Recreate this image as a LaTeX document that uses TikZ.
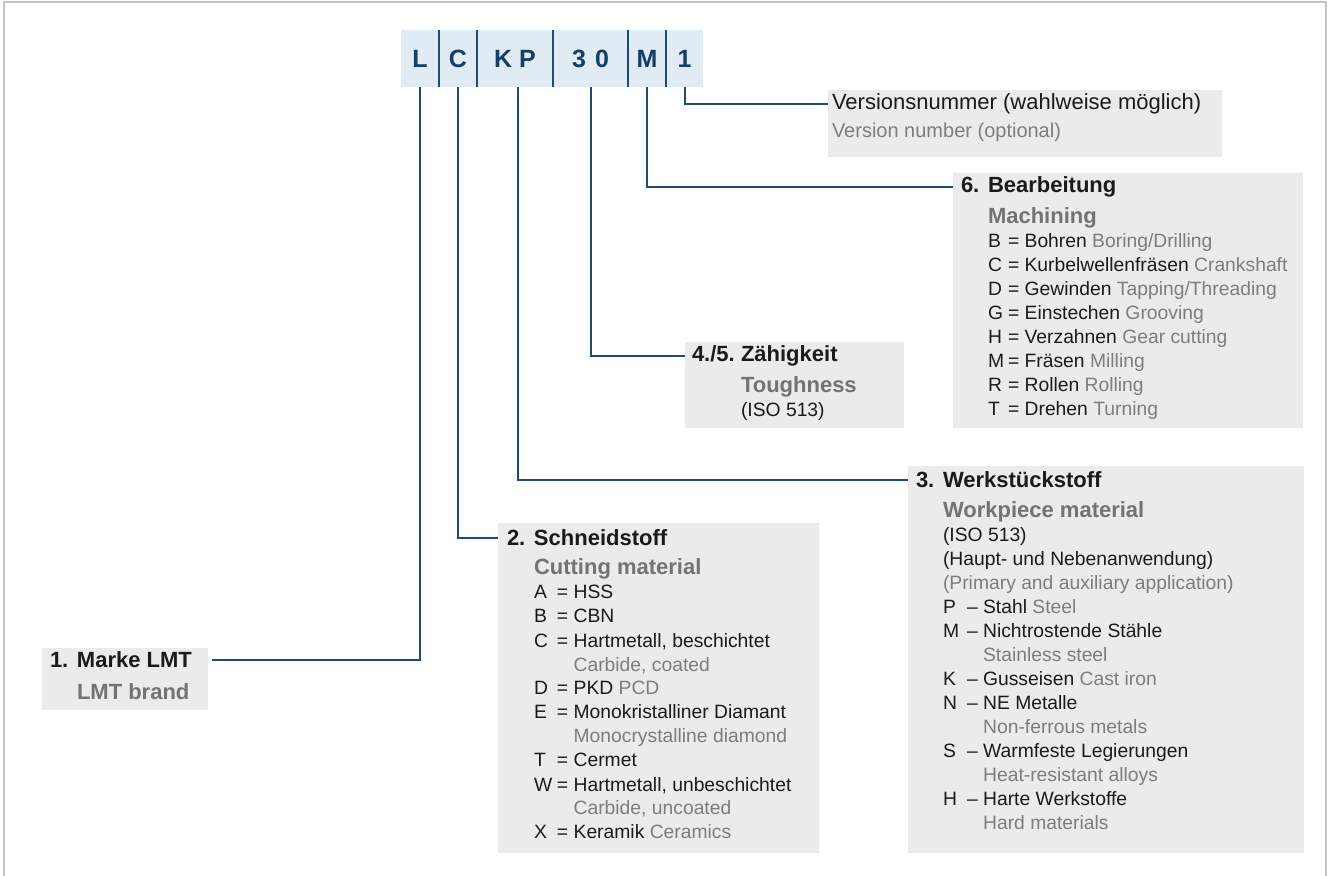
\documentclass[tikz,border=0pt]{standalone}
\usepackage{fontspec}
\setmainfont{Liberation Sans}
\definecolor{boxgray}{HTML}{EBEBEB}
\definecolor{barblue}{HTML}{E1EBF3}
\definecolor{navy}{HTML}{1F4A7C}
\definecolor{codeblue}{HTML}{123F6E}
\definecolor{txtgray}{HTML}{7D7D7D}
\definecolor{subgray}{HTML}{737373}
\definecolor{txtblack}{HTML}{1A1A1A}
\definecolor{framegray}{HTML}{C4C4C4}
\newcommand\gr[1]{\textcolor{txtgray}{#1}}
\newcommand\sub[1]{\textcolor{subgray}{\fontsize{11}{12}\selectfont\bfseries #1}}
% entries: letter column width, separator, text
\newcommand\ent[4]{\makebox[#1][l]{#2}#3\ #4}
\newcommand\cnt[3]{\makebox[#1][l]{}\phantom{#2}\ #3}
\newcommand\eb[2]{\ent{10pt}{#1}{=}{#2}}
\newcommand\es[2]{\ent{11.5pt}{#1}{=}{#2}}
\newcommand\cs[1]{\cnt{11.5pt}{=}{#1}}
\newcommand\ew[2]{\ent{12pt}{#1}{–}{#2}}
\newcommand\cw[1]{\cnt{12pt}{–}{#1}}
\newcommand\hnum[2]{\makebox[13.5pt][l]{#1}#2}
\begin{document}
\begin{tikzpicture}[x=0.5pt,y=-0.5pt,
  boxbg/.style={fill=boxgray, draw=none, anchor=north west, inner sep=0, outer sep=0},
  cell/.style={fill=barblue, draw=none, anchor=north west, inner sep=0, outer sep=0,
    minimum height=28.5pt, text=codeblue, font=\fontsize{12.5}{15}\selectfont\bfseries},
  txt/.style={anchor=base west, inner sep=0, outer sep=0, text=txtblack,
    font=\fontsize{9.65}{12}\selectfont},
  big/.style={txt, font=\fontsize{11}{12}\selectfont},
  head/.style={txt, font=\fontsize{11}{12}\selectfont\bfseries},
  conn/.style={draw=navy, line width=1pt},
  sepline/.style={draw=navy, line width=0.7pt}]
\useasboundingbox (0,0) rectangle (1328,876);
\draw[framegray, line width=1pt] (4,876) -- (4,2) -- (1326,2) -- (1326,876);

% header code bar
\node[cell, minimum width=19pt]   (cL)  at (401,30) {L};
\node[cell, minimum width=19pt]   (cC)  at (439,30) {C};
\node[cell, minimum width=38pt]   (cKP) at (477,30) {K P};
\node[cell, minimum width=37.5pt] (c30) at (553,30) {3\hspace{4.5pt}0};
\node[cell, minimum width=19pt]   (cM)  at (628,30) {M};
\node[cell, minimum width=18.5pt] (c1)  at (666,30) {1};
\foreach \c in {cL,cC,cKP,c30,cM}{\draw[sepline] (\c.north east) -- (\c.south east);}

% boxes
\node[boxbg, minimum width=197pt, minimum height=33.5pt]  (verBox)   at (828,90)  {};
\node[boxbg, minimum width=175pt, minimum height=127.5pt] (bearBox)  at (953,173) {};
\node[boxbg, minimum width=109.5pt, minimum height=43pt]  (toughBox) at (685,342) {};
\node[boxbg, minimum width=198pt, minimum height=193.5pt] (werkBox)  at (908,466) {};
\node[boxbg, minimum width=160.5pt, minimum height=165pt] (schnBox)  at (498,523) {};
\node[boxbg, minimum width=83pt, minimum height=31pt]     (markeBox) at (42,648)  {};

% Versionsnummer
\node[big] (verHead) at (832,110) {Versionsnummer (wahlweise möglich)};
\node[txt, font=\fontsize{10}{12}\selectfont] (verBody) at (832,138) {\gr{Version number (optional)}};

% 6. Bearbeitung
\node[head] (bearHead) at (961,193) {\hnum{6.}{Bearbeitung}};
\node[txt] (bearBody) at (988,224) {\begin{tabular}[t]{@{}l@{}}
\sub{Machining}\\
\eb{B}{Bohren \gr{Boring/Drilling}}\\
\eb{C}{Kurbelwellenfräsen \gr{Crankshaft}}\\
\eb{D}{Gewinden \gr{Tapping/Threading}}\\
\eb{G}{Einstechen \gr{Grooving}}\\
\eb{H}{Verzahnen \gr{Gear cutting}}\\
\eb{M}{Fräsen \gr{Milling}}\\
\eb{R}{Rollen \gr{Rolling}}\\
\eb{T}{Drehen \gr{Turning}}
\end{tabular}};

% 4./5. Zähigkeit
\node[head] (toughHead) at (692,362) {\makebox[24.5pt][l]{4./5.}Zähigkeit};
\node[txt] (toughBody) at (741,393) {\begin{tabular}[t]{@{}l@{}}
\sub{Toughness}\\
(ISO 513)
\end{tabular}};

% 3. Werkstückstoff
\node[head] (werkHead) at (916,488) {\hnum{3.}{Werkstückstoff}};
\node[txt] (werkBody) at (943,518) {\begin{tabular}[t]{@{}l@{}}
\sub{Workpiece material}\\
(ISO 513)\\
(Haupt- und Nebenanwendung)\\
\gr{(Primary and auxiliary application)}\\
\ew{P}{Stahl \gr{Steel}}\\
\ew{M}{Nichtrostende Stähle}\\
\cw{\gr{Stainless steel}}\\
\ew{K}{Gusseisen \gr{Cast iron}}\\
\ew{N}{NE Metalle}\\
\cw{\gr{Non-ferrous metals}}\\
\ew{S}{Warmfeste Legierungen}\\
\cw{\gr{Heat-resistant alloys}}\\
\ew{H}{Harte Werkstoffe}\\
\cw{\gr{Hard materials}}
\end{tabular}};

% 2. Schneidstoff
\node[head] (schnHead) at (507,546) {\hnum{2.}{Schneidstoff}};
\node[txt] (schnBody) at (534,575) {\begin{tabular}[t]{@{}l@{}}
\sub{Cutting material}\\
\es{A}{HSS}\\
\es{B}{CBN}\\
\es{C}{Hartmetall, beschichtet}\\
\cs{\gr{Carbide, coated}}\\
\es{D}{PKD \gr{PCD}}\\
\es{E}{Monokristalliner Diamant}\\
\cs{\gr{Monocrystalline diamond}}\\
\es{T}{Cermet}\\
\es{W}{Hartmetall, unbeschichtet}\\
\cs{\gr{Carbide, uncoated}}\\
\es{X}{Keramik \gr{Ceramics}}
\end{tabular}};

% 1. Marke LMT
\node[head] (markeHead) at (50,668) {\hnum{1.}{Marke LMT}};
\node[txt] (markeBody) at (77,699) {\sub{LMT brand}};

% connectors
\draw[conn] (c1.south) |- (verBox.west |- verHead.west);
\draw[conn] (cM.south) |- (bearBox.west |- bearHead.west);
\draw[conn] (c30.south) |- (toughBox.west |- toughHead.west);
\draw[conn] ([xshift=1.5pt]cKP.south) |- (werkBox.west |- werkHead.west);
\draw[conn] (cC.south) |- (schnBox.west |- schnHead.west);
\draw[conn] (cL.south) |- ([xshift=2pt]markeBox.east |- markeHead.west);
\end{tikzpicture}
\end{document}
